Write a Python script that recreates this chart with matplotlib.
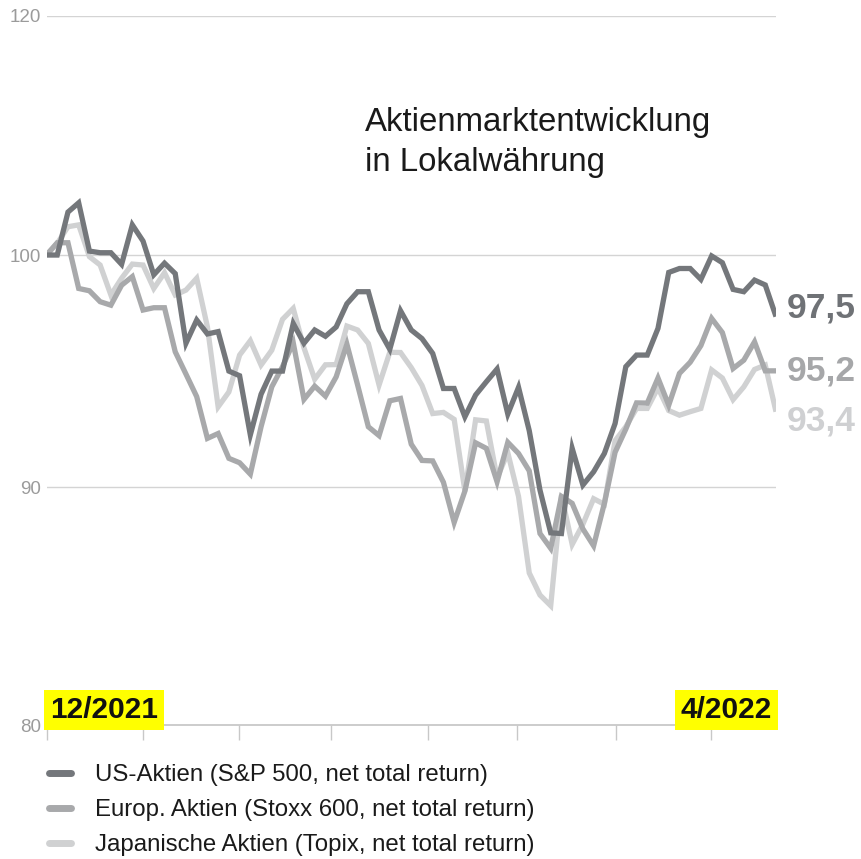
import matplotlib
matplotlib.use("Agg")
import matplotlib.pyplot as plt
from matplotlib import font_manager
import numpy as np
from matplotlib.lines import Line2D

plt.rcParams['font.family'] = ['Liberation Sans', 'DejaVu Sans']

# ---------------- data ----------------
series_names = [
    "US-Aktien (S&P 500, net total return)",
    "Europ. Aktien (Stoxx 600, net total return)",
    "Japanische Aktien (Topix, net total return)",
]
us = [100.0, 100.0, 101.85, 102.25, 100.17, 100.1, 100.1, 99.6, 101.3, 100.6,
      99.15, 99.65, 99.2, 96.2, 97.2, 96.6, 96.7, 95.0, 94.8, 92.25,
      94.0, 95.0, 95.0, 97.05, 96.2, 96.77, 96.5, 96.9, 97.9, 98.42,
      98.42, 96.77, 95.94, 97.6, 96.77, 96.4, 95.76, 94.25, 94.25, 93.03,
      93.97, 94.54, 95.09, 93.15, 94.3, 92.43, 89.87, 88.03, 88.0, 91.67,
      90.09, 90.66, 91.45, 92.74, 95.19, 95.69, 95.69, 96.84, 99.25, 99.42,
      99.42, 98.95, 99.96, 99.67, 98.52, 98.42, 98.92, 98.71, 97.35]
eu = [100.0, 100.53, 100.53, 98.56, 98.46, 97.99, 97.84, 98.7, 99.07, 97.63,
      97.73, 97.73, 95.83, 94.87, 93.9, 92.1, 92.31, 91.24, 91.05, 90.56,
      92.6, 94.32, 95.19, 96.22, 93.78, 94.35, 93.92, 94.75, 96.16, 94.4,
      92.6, 92.22, 93.72, 93.82, 91.85, 91.15, 91.13, 90.21, 88.48, 89.83,
      91.91, 91.67, 90.23, 91.93, 91.45, 90.7, 88.0, 87.36, 89.6, 89.3,
      88.2, 87.47, 89.3, 91.5, 92.5, 93.63, 93.62, 94.7, 93.53, 94.9,
      95.38, 96.1, 97.27, 96.66, 95.11, 95.47, 96.26, 95.01, 95.01]
jp = [100.0, 100.5, 101.22, 101.3, 99.93, 99.57, 98.28, 99.0, 99.61, 99.57,
      98.56, 99.24, 98.28, 98.49, 99.0, 96.9, 93.46, 94.1, 95.69, 96.31,
      95.26, 95.9, 97.23, 97.7, 96.0, 94.65, 95.27, 95.28, 96.94, 96.77,
      96.19, 94.4, 95.81, 95.8, 95.15, 94.38, 93.17, 93.22, 92.92, 89.83,
      92.9, 92.85, 90.4, 91.48, 89.6, 86.3, 85.35, 84.89, 89.66, 87.53,
      88.4, 89.5, 89.26, 92.0, 92.6, 93.39, 93.39, 94.28, 93.3, 93.1,
      93.25, 93.39, 95.05, 94.7, 93.77, 94.32, 95.07, 95.26, 93.25]
end_labels = ["97,5", "95,2", "93,4"]
ytick_labels = ["80", "90", "100", "120"]
date_labels = ["12/2021", "4/2022"]
title_text = "Aktienmarktentwicklung\nin Lokalwährung"

# ---------------- style ----------------
colors = ["#74777b", "#a8a9ab", "#d0d1d2"]
label_colors = ["#6f7276", "#a6a7a9", "#cfd0d2"]
grid_color = "#d4d4d4"
W, H = 861, 859

# condensed bold font for the date labels, if available
installed = {f.name for f in font_manager.fontManager.ttflist}
if 'Liberation Sans Narrow' in installed:
    date_family, date_size = ['Liberation Sans Narrow', 'DejaVu Sans'], 26
else:
    date_family, date_size = ['Liberation Sans', 'DejaVu Sans'], 21.5

fig = plt.figure(figsize=(W / 100, H / 100), dpi=100)
ax_left, ax_right, ax_bottom, ax_top = 46.5, 776, 725, 16
ax = fig.add_axes([ax_left / W, (H - ax_bottom) / H,
                   (ax_right - ax_left) / W, (ax_bottom - ax_top) / H])

x = np.arange(len(us))
lw = 3.8
series = [us, eu, jp]
for i in [2, 1, 0]:
    ax.plot(x, series[i], color=colors[i], lw=lw, solid_joinstyle='miter',
            solid_capstyle='butt', zorder=3 + (2 - i), label=series_names[i])

ymin, ymax = 79.75, 110.3
ax.set_xlim(0, len(us) - 1)
ax.set_ylim(ymin, ymax)

yticks = [ymin, 90, 100, ymax]
ax.set_yticks(yticks)
ax.set_yticklabels(ytick_labels)
for yv in yticks[1:]:
    ax.axhline(yv, color=grid_color, lw=1.0, zorder=1)

xtick_pos = [0, 9.0, 17.9, 26.5, 35.6, 43.9, 53.1, 61.9]
ax.set_xticks(xtick_pos)
ax.set_xticklabels([""] * len(xtick_pos))
ax.tick_params(axis='x', direction='out', length=11, width=1.0, color="#c8c8c8")
ax.tick_params(axis='y', length=0, pad=4, labelsize=13.5, labelcolor="#9b9b9b")

for s in ['top', 'right', 'left']:
    ax.spines[s].set_visible(False)
ax.spines['bottom'].set_color("#c8c8c8")
ax.spines['bottom'].set_linewidth(1.3)

# end labels
label_y = [97.7, 95.0, 92.85]
for i in range(3):
    ax.text(len(us) - 1 + 1.0, label_y[i], end_labels[i], color=label_colors[i],
            fontsize=25.5, fontweight='bold', va='center', ha='left', clip_on=False)

# title
fig.text(365 / W, 1 - 107 / H, title_text, fontsize=23.8, color="#1a1a1a",
         ha='left', va='top', linespacing=1.36)

# date labels with yellow background
fig.text(50 / W, 1 - 718 / H, date_labels[0], fontsize=date_size, fontweight='bold',
         family=date_family, color="#111111", ha='left', va='baseline',
         bbox=dict(facecolor='#ffff00', edgecolor='none', pad=4.0))
fig.text(772 / W, 1 - 718 / H, date_labels[1], fontsize=date_size, fontweight='bold',
         family=date_family, color="#111111", ha='right', va='baseline',
         bbox=dict(facecolor='#ffff00', edgecolor='none', pad=4.0))

# legend
handles = [Line2D([0], [0], color=colors[i], lw=5, solid_capstyle='round')
           for i in range(3)]
fig.legend(handles, series_names, loc='upper left',
           bbox_to_anchor=(49 / W, 1 - 764 / H), frameon=False,
           fontsize=17.3, handlelength=0.9, handletextpad=1.0,
           labelspacing=0.55, borderaxespad=0, borderpad=0,
           labelcolor="#1a1a1a")

fig.savefig("out.png", dpi=100)
